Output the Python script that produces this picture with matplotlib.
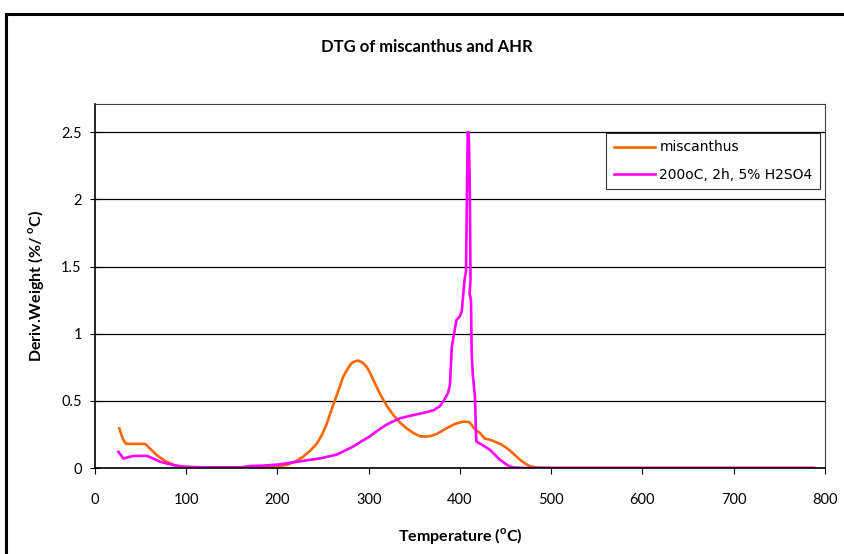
import matplotlib.pyplot as plt
from matplotlib.patches import Rectangle

# miscanthus DTG curve
misc_t = [26.7, 29, 31, 34, 45, 55, 61, 67.6, 73, 78.5, 84, 89.5, 95, 105, 130,
          170, 185, 200, 210, 220, 228, 236, 243, 249, 254, 258, 263, 268,
          272, 277, 281, 285, 288.6, 293, 297.7, 302, 306.8, 311, 316, 321,
          327, 334, 341.6, 349, 356, 362, 368, 375, 385, 395, 403.6, 410,
          412.8, 416, 422, 427, 433, 444, 451, 458, 466, 472, 478, 485, 500,
          600, 700, 788]
misc_y = [0.295, 0.245, 0.21, 0.18, 0.18, 0.18, 0.14, 0.097, 0.07, 0.047, 0.03,
          0.015, 0.008, 0.005, 0.003, 0.003, 0.008, 0.015, 0.022, 0.05, 0.084,
          0.13, 0.18, 0.25, 0.33, 0.41, 0.506, 0.60, 0.68, 0.74, 0.78, 0.795,
          0.80, 0.785, 0.754, 0.70, 0.63, 0.57, 0.506, 0.45, 0.394, 0.34,
          0.295, 0.26, 0.237, 0.233, 0.238, 0.255, 0.295, 0.33, 0.345, 0.343,
          0.32, 0.29, 0.26, 0.22, 0.21, 0.18, 0.15, 0.11, 0.06, 0.03, 0.01,
          0.003, 0.0, 0.0, 0.0, 0.0]

# acid-hydrolysis residue (200oC, 2h, 5% H2SO4)
ahr_t = [25.6, 28, 31, 36, 42, 50, 57, 64, 71, 78, 86, 95, 105, 120, 140, 160,
         170, 185, 200, 210, 225, 247, 265, 283, 290, 301, 312, 320, 334, 349,
         360, 371, 378, 382, 387, 389, 391, 394, 396, 400, 402, 403, 405,
         406.6, 407.5, 408.5, 409.5, 410.5, 411, 411.5, 410.5, 412, 412.8, 414,
         416.4, 417.5, 418, 425, 433, 438, 444, 450, 455, 460, 470, 500, 600,
         700, 788]
ahr_y = [0.12, 0.10, 0.07, 0.08, 0.09, 0.09, 0.09, 0.07, 0.047, 0.035, 0.022,
         0.012, 0.008, 0.005, 0.005, 0.005, 0.015, 0.018, 0.025, 0.035, 0.05,
         0.072, 0.10, 0.16, 0.19, 0.235, 0.29, 0.325, 0.37, 0.394, 0.41, 0.43,
         0.46, 0.50, 0.56, 0.62, 0.90, 1.02, 1.10, 1.13, 1.17, 1.25, 1.40,
         1.47, 2.0, 2.50, 2.50, 2.2, 1.87, 1.40, 1.30, 1.25, 0.85, 0.70, 0.53,
         0.25, 0.196, 0.17, 0.134, 0.10, 0.06, 0.03, 0.01, 0.003, 0.0, 0.0,
         0.0, 0.0, 0.0]

x_ticks = [0, 100, 200, 300, 400, 500, 600, 700, 800]
y_ticks = [0, 0.5, 1, 1.5, 2, 2.5]
y_labels = ["0", "0.5", "1", "1.5", "2", "2.5"]

plt.rcParams["font.family"] = ["Lato", "DejaVu Sans"]

fig = plt.figure(figsize=(8.45, 5.54), dpi=100)
ax = fig.add_axes([95 / 845, 1 - 468 / 554, 730 / 845, 364 / 554])

# outer chart border (clipped on the right and bottom, as in the reference)
fig.patches.append(Rectangle((6 / 845, -0.1), 1.2, 1 - 14 / 554 + 0.1,
                             transform=fig.transFigure, fill=False,
                             edgecolor="black", linewidth=2.2))

ax.plot(misc_t, misc_y, color="#FF6600", lw=1.9, label="miscanthus")
ax.plot(ahr_t, ahr_y, color="#FF00FF", lw=1.9, label="200oC, 2h, 5% H2SO4")

ax.set_xlim(0, 800)
ax.set_ylim(0, 2.71)
ax.set_xticks(x_ticks)
ax.set_yticks(y_ticks)
ax.set_yticklabels(y_labels)
ax.yaxis.grid(True, color="black", lw=0.9)
ax.set_axisbelow(True)
ax.tick_params(axis="x", direction="out", length=4, labelsize=10.5, pad=14)
ax.tick_params(axis="y", direction="inout", length=7, labelsize=10.5, pad=6)

for side in ["top", "right"]:
    ax.spines[side].set_color("#404040")
for side in ["left", "bottom"]:
    ax.spines[side].set_color("black")
    ax.spines[side].set_linewidth(1.2)

ax.set_xlabel("Temperature ($^\\mathregular{o}$C)", fontsize=11.5,
              fontweight="bold", labelpad=14)
ax.set_ylabel("Deriv.Weight (%/ $^\\mathregular{o}$C)", fontsize=11.5,
              fontweight="bold", labelpad=11)
fig.text(427 / 845, 1 - 47 / 554, "DTG of miscanthus and AHR", ha="center",
         va="center", fontsize=12, fontweight="bold")

leg = ax.legend(loc="upper right", bbox_to_anchor=(0.9935, 0.921),
                fancybox=False, edgecolor="black",
                prop={"family": "DejaVu Sans", "size": 10},
                handlelength=3.0, handletextpad=0.3, borderpad=0.55,
                labelspacing=0.95, borderaxespad=0)
leg.get_frame().set_linewidth(0.8)

fig.savefig("out.png", dpi=100)
